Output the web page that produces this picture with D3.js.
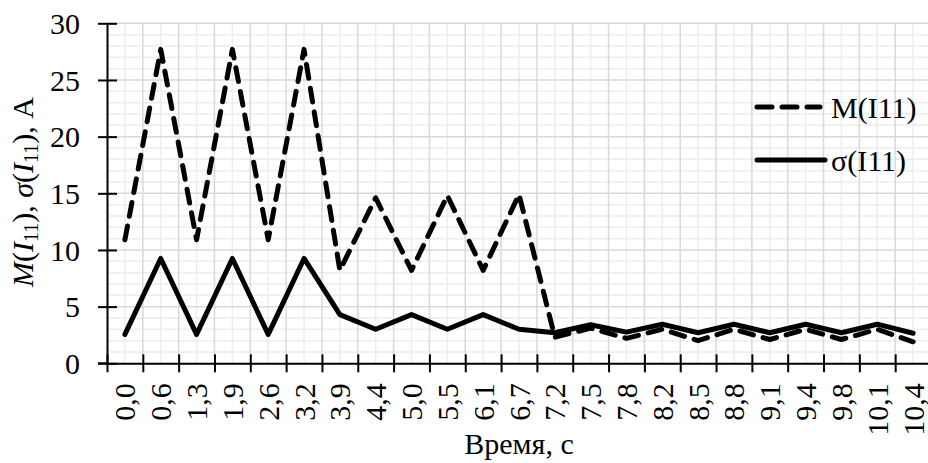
<!DOCTYPE html>
<html>
<head>
<meta charset="utf-8">
<script src="https://cdn.jsdelivr.net/npm/d3@7"></script>
<style>
  body { margin: 0; background: #fff; }
</style>
</head>
<body>
<script>
const width = 928;
const height = 463;
const serif = "Liberation Serif";

// time categories, s
const categories = ["0,0", "0,6", "1,3", "1,9", "2,6", "3,2", "3,9", "4,4", "5,0", "5,5", "6,1", "6,7",
    "7,2", "7,5", "7,8", "8,2", "8,5", "8,8", "9,1", "9,4", "9,8", "10,1", "10,4"];
// M(I11)
const meanValues = [10.9, 27.7, 10.9, 27.7, 10.9, 27.7, 8.2, 14.6, 8.2, 14.8, 8.2, 14.9,
    2.3, 3.1, 2.2, 3.0, 2.0, 3.0, 2.1, 3.0, 2.1, 3.0, 1.9];
// sigma(I11)
const sigmaValues = [2.55, 9.25, 2.55, 9.25, 2.55, 9.25, 4.3, 3.0, 4.3, 3.0, 4.3, 3.0,
    2.7, 3.4, 2.75, 3.45, 2.7, 3.45, 2.7, 3.45, 2.7, 3.45, 2.65];
const yTicks = [0, 5, 10, 15, 20, 25, 30];
const legendLabels = ["M(I11)", "σ(I11)"];

const margin = { left: 107, right: -3, top: 23.3, bottom: 99.7 };

const svg = d3.select("body").append("svg")
    .attr("width", width)
    .attr("height", height)
    .attr("font-family", serif);

const x = d3.scaleBand()
    .domain(categories)
    .range([margin.left, width - margin.right])
    .padding(0);

const xb = d3.scaleLinear()
    .domain([0, categories.length])
    .range([margin.left, width - margin.right]);

const y = d3.scaleLinear()
    .domain([0, 30])
    .range([height - margin.bottom, margin.top]);

const cx = c => x(c) + x.bandwidth() / 2;

// grid
const grid = svg.append("g");
grid.selectAll(".hmin")
    .data(d3.range(0, 31, 1).filter(v => v % 5 !== 0))
    .join("line")
    .attr("x1", margin.left).attr("x2", width)
    .attr("y1", d => y(d)).attr("y2", d => y(d))
    .attr("stroke", "#ededed").attr("stroke-width", 1.5);
grid.selectAll(".vmin")
    .data(categories)
    .join("line")
    .attr("x1", d => cx(d)).attr("x2", d => cx(d))
    .attr("y1", y(30)).attr("y2", y(0))
    .attr("stroke", "#ededed").attr("stroke-width", 1.5);
grid.selectAll(".hmaj")
    .data(yTicks.slice(1))
    .join("line")
    .attr("x1", margin.left).attr("x2", width)
    .attr("y1", d => y(d)).attr("y2", d => y(d))
    .attr("stroke", "#d9d9d9").attr("stroke-width", 1.5);
grid.selectAll(".vmaj")
    .data(d3.range(1, categories.length + 1))
    .join("line")
    .attr("x1", d => xb(d)).attr("x2", d => xb(d))
    .attr("y1", y(30)).attr("y2", y(0))
    .attr("stroke", "#d9d9d9").attr("stroke-width", 1.5);

// axes
const yAxis = svg.append("g")
    .attr("transform", `translate(${margin.left},0)`)
    .call(d3.axisLeft(y).tickValues(yTicks).tickSize(9).tickPadding(18).tickSizeOuter(0));
yAxis.attr("font-family", serif).attr("font-size", 30);
yAxis.select(".domain").attr("stroke", "#000").attr("stroke-width", 2);
yAxis.selectAll(".tick line").attr("x1", 10).attr("stroke", "#000").attr("stroke-width", 2);
yAxis.selectAll(".tick text")
    .attr("fill", "#000")
    .attr("dy", "0.34em");

const xAxis = svg.append("g")
    .attr("transform", `translate(0,${y(0)})`)
    .call(d3.axisBottom(xb).tickValues(d3.range(0, categories.length + 1)).tickFormat("").tickSize(9).tickSizeOuter(0));
xAxis.select(".domain").attr("stroke", "#000").attr("stroke-width", 2);
xAxis.selectAll(".tick line").attr("y1", -9).attr("stroke", "#000").attr("stroke-width", 2);
// extend axis line to the left under the y tick
xAxis.append("line")
    .attr("x1", margin.left - 9).attr("x2", margin.left)
    .attr("stroke", "#000").attr("stroke-width", 2);

svg.append("g").selectAll("text")
    .data(categories)
    .join("text")
    .attr("transform", d => `translate(${cx(d)},${y(0) + 20}) rotate(-90)`)
    .attr("text-anchor", "end")
    .attr("dy", "0.35em")
    .attr("font-size", 30)
    .text(d => d);

svg.append("text")
    .attr("x", (margin.left + width - margin.right) / 2)
    .attr("y", 454)
    .attr("text-anchor", "middle")
    .attr("font-size", 30)
    .text("Время, с");

// y label with subscripts
const yl = svg.append("text")
    .attr("transform", "translate(33,192) rotate(-90)")
    .attr("text-anchor", "middle")
    .attr("font-size", 30);
yl.append("tspan").attr("font-style", "italic").text("M");
yl.append("tspan").text("(");
yl.append("tspan").attr("font-style", "italic").text("I");
yl.append("tspan").attr("font-size", 20).attr("dy", 5).text("11");
yl.append("tspan").attr("dy", -5).text("), ");
yl.append("tspan").attr("font-style", "italic").text("σ");
yl.append("tspan").text("(");
yl.append("tspan").attr("font-style", "italic").text("I");
yl.append("tspan").attr("font-size", 20).attr("dy", 5).text("11");
yl.append("tspan").attr("dy", -5).text("), A");

// lines
const line = d3.line()
    .x((d, i) => cx(categories[i]))
    .y(d => y(d));

svg.append("path")
    .datum(sigmaValues)
    .attr("d", line)
    .attr("fill", "none")
    .attr("stroke", "#000")
    .attr("stroke-width", 5)
    .attr("stroke-linejoin", "round")
    .attr("stroke-linecap", "round");

svg.append("path")
    .datum(meanValues)
    .attr("d", line)
    .attr("fill", "none")
    .attr("stroke", "#000")
    .attr("stroke-width", 5)
    .attr("stroke-dasharray", "14,10")
    .attr("stroke-linejoin", "round")
    .attr("stroke-linecap", "round");

// legend
const legend = svg.append("g");
const legendRows = [
    { label: legendLabels[0], y: 107, dash: "15,10", x2: 820 },
    { label: legendLabels[1], y: 160, dash: null, x2: 825 }
];
legendRows.forEach(r => {
    legend.append("line")
        .attr("x1", 757).attr("x2", r.x2)
        .attr("y1", r.y).attr("y2", r.y)
        .attr("stroke", "#000")
        .attr("stroke-width", 5)
        .attr("stroke-linecap", "round")
        .attr("stroke-dasharray", r.dash);
    legend.append("text")
        .attr("x", 831)
        .attr("y", r.y + 11)
        .attr("font-size", 30)
        .text(r.label);
});
</script>
</body>
</html>
